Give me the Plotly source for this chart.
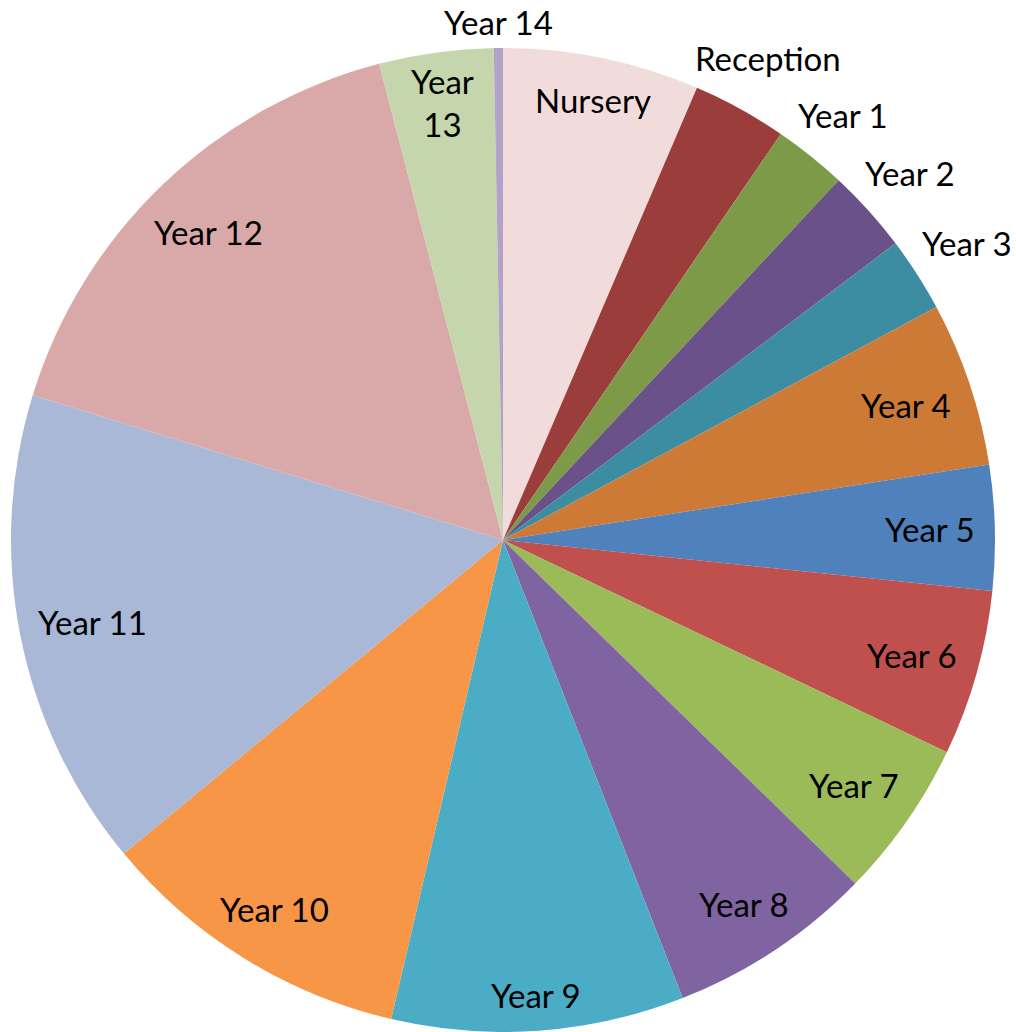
import math
import plotly.graph_objects as go

# ---- data ----
labels = ["Nursery", "Reception", "Year 1", "Year 2", "Year 3", "Year 4", "Year 5",
          "Year 6", "Year 7", "Year 8", "Year 9", "Year 10", "Year 11", "Year 12",
          "Year 13", "Year 14"]
values = [6.45, 3.1, 2.4, 2.75, 2.45, 5.4, 4.1, 5.45, 5.2, 6.75, 9.6, 10.35,
          15.75, 16.2, 3.75, 0.3]
colors = ["#F2DCDB", "#9B3D3B", "#7D9A48", "#6A5189", "#3C8CA2", "#CD7A37",
          "#4F81BD", "#C0504D", "#9BBB59", "#8064A2", "#4BACC6", "#F79646",
          "#A9B8D6", "#D9A8A8", "#C6D6AC", "#B3A2C7"]
label_text = ["Nursery", "Reception", "Year 1", "Year 2", "Year 3", "Year 4",
              "Year 5", "Year 6", "Year 7", "Year 8", "Year 9", "Year 10",
              "Year 11", "Year 12", "Year<br>13", "Year 14"]
outside_labels = {"Reception", "Year 1", "Year 2", "Year 3", "Year 14"}

# ---- layout geometry ----
W, H = 1016, 1032
ML, MR, MT, MB = 11, 21, 48, 0
PW, PH = W - ML - MR, H - MT - MB
R = min(PW, PH) / 2.0
CX, CY = ML + PW / 2.0, MT + PH / 2.0
FS = 33
CHAR_W = 15.5
LINE_H = 28

fig = go.Figure(go.Pie(
    labels=labels, values=values, sort=False, direction="clockwise", rotation=0,
    marker=dict(colors=colors, line=dict(width=0)),
    textinfo="none", hoverinfo="label+percent", showlegend=False,
    domain=dict(x=[0, 1], y=[0, 1]),
))

total = float(sum(values))
annotations = []
cum = 0.0
for lab, val, txt in zip(labels, values, label_text):
    mid = (cum + val / 2.0) / total * 2 * math.pi
    cum += val
    lines = txt.split("<br>")
    hw = max(len(s) for s in lines) * CHAR_W / 2.0
    hh = len(lines) * LINE_H / 2.0
    ext = hw * abs(math.sin(mid)) + hh * abs(math.cos(mid))
    if lab in outside_labels:
        r = R + 12 + ext
    else:
        r = R - 18 - ext
    px = CX + r * math.sin(mid)
    py = CY - r * math.cos(mid)
    annotations.append(dict(
        x=(px - ML) / PW, y=1 - (py - MT) / PH, xref="paper", yref="paper",
        text=txt, showarrow=False, xanchor="center", yanchor="middle",
        borderpad=0,
        font=dict(family="Lato, 'Open Sans', sans-serif", size=FS, color="#000000"),
    ))

fig.update_layout(
    width=W, height=H, margin=dict(l=ML, r=MR, t=MT, b=MB),
    paper_bgcolor="white", plot_bgcolor="white",
    annotations=annotations,
)
fig.write_html("out.html", config={"displayModeBar": False},
               post_script="document.body.style.margin='0';document.body.style.overflow='hidden';")
